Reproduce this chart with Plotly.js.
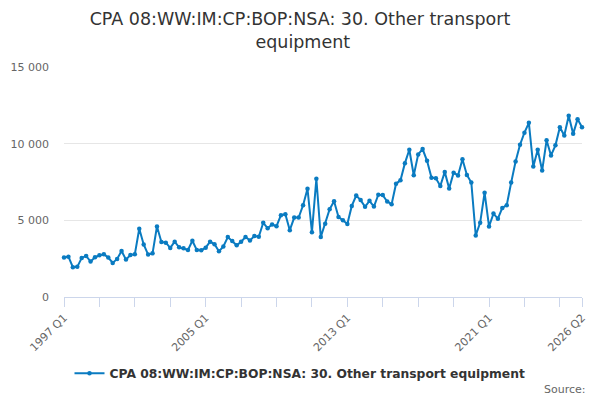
<!DOCTYPE html>
<html>
<head>
<meta charset="utf-8">
<script src="https://cdn.plot.ly/plotly-3.0.1.min.js"></script>
<style>
  html, body { margin: 0; padding: 0; background: #fff; }
  #myDiv { width: 600px; height: 400px; }
</style>
</head>
<body>
<div id="myDiv"></div>
<script>
// quarterly values, 1997 Q1 .. 2026 Q2
var values = [
  2570, 2630, 1945, 1965, 2550, 2680, 2310, 2590,
  2720, 2790, 2570, 2225, 2480, 3000, 2440, 2740,
  2790, 4450, 3430, 2765, 2850, 4600, 3590, 3540,
  3200, 3610, 3240, 3175, 3070, 3670, 3060, 3045,
  3220, 3610, 3435, 2980, 3300, 3910, 3650, 3370,
  3610, 3910, 3690, 3975, 3930, 4840, 4490, 4730,
  4620, 5335, 5400, 4360, 5180, 5180, 5980, 7060,
  4230, 7710, 3910, 4770, 5730, 6250, 5220, 5000,
  4760, 5940, 6620, 6320, 5880, 6270, 5900, 6670,
  6645, 6230, 6050, 7390, 7610, 8730, 9605, 7940,
  9300, 9650, 8880, 7785, 7740, 7240, 8160, 7080,
  8110, 7930, 8990, 7960, 7460, 4010, 4850, 6800,
  4600, 5440, 5110, 5810, 5990, 7460, 8840, 9930,
  10720, 11360, 8510, 9605, 8245, 10220, 9230, 9890,
  11075, 10530, 11820, 10640, 11600, 11075
];

var quarters = [];
for (var yr = 1997; yr <= 2026; yr++) {
  for (var q = 1; q <= 4; q++) {
    if (quarters.length < values.length) quarters.push(yr + ' Q' + q);
  }
}

var tickLabels = ['1997 Q1', '2005 Q1', '2013 Q1', '2021 Q1', '2026 Q2'];
var tickQuarters = ['1997 Q1', '1999 Q1', '2001 Q1', '2003 Q1', '2005 Q1', '2007 Q1',
  '2009 Q1', '2011 Q1', '2013 Q1', '2015 Q1', '2017 Q1', '2019 Q1', '2021 Q1',
  '2023 Q1', '2025 Q1', '2026 Q2'];

var seriesName = 'CPA 08:WW:IM:CP:BOP:NSA: 30. Other transport equipment';

var trace1 = {
  x: quarters,
  y: values,
  name: '<b>' + seriesName + '</b>',
  type: 'scatter',
  mode: 'lines+markers',
  line: {color: '#0a7bc1', width: 2},
  marker: {color: '#0a7bc1', size: 4.5},
  cliponaxis: false,
  hoverinfo: 'x+y'
};

var layout = {
  width: 600,
  height: 400,
  font: {family: 'DejaVu Sans, sans-serif', color: '#333'},
  separators: '. ',
  title: {
    text: seriesName.replace(' transport', ' transport<br>'),
    font: {size: 17.5, color: '#333'},
    xref: 'container', yref: 'container',
    x: 0.5, xanchor: 'center',
    y: 0.938, yanchor: 'middle'
  },
  margin: {l: 64, r: 18, t: 67, b: 103},
  xaxis: {
    type: 'category',
    range: [0, quarters.length - 1],
    tickvals: tickQuarters,
    ticktext: tickQuarters.map(function (t) { return tickLabels.indexOf(t) >= 0 ? t : ''; }),
    tickangle: -45,
    ticks: 'outside',
    ticklen: 9,
    tickcolor: '#ccd6eb',
    showline: true,
    linecolor: '#ccd6eb',
    showgrid: false,
    tickfont: {size: 11, color: '#666'}
  },
  yaxis: {
    range: [0, 15000],
    tickvals: [0, 5000, 10000, 15000],
    separatethousands: true,
    tickformat: ',d',
    showgrid: true,
    gridcolor: '#e6e6e6',
    zeroline: false,
    ticklabelstandoff: 14,
    tickfont: {size: 11, color: '#666'}
  },
  showlegend: true,
  legend: {
    orientation: 'h',
    xref: 'container', yref: 'container',
    x: 0.5, xanchor: 'center',
    y: 0.067, yanchor: 'middle',
    font: {size: 12.3, color: '#333'}
  },
  annotations: [{
    text: 'Source:',
    xref: 'paper', yref: 'paper',
    x: 1.012, xanchor: 'right',
    y: -0.4, yanchor: 'middle',
    showarrow: false,
    font: {size: 11, color: '#666'}
  }],
  plot_bgcolor: '#fff',
  paper_bgcolor: '#fff'
};

Plotly.newPlot('myDiv', [trace1], layout, {displayModeBar: false});
</script>
</body>
</html>
